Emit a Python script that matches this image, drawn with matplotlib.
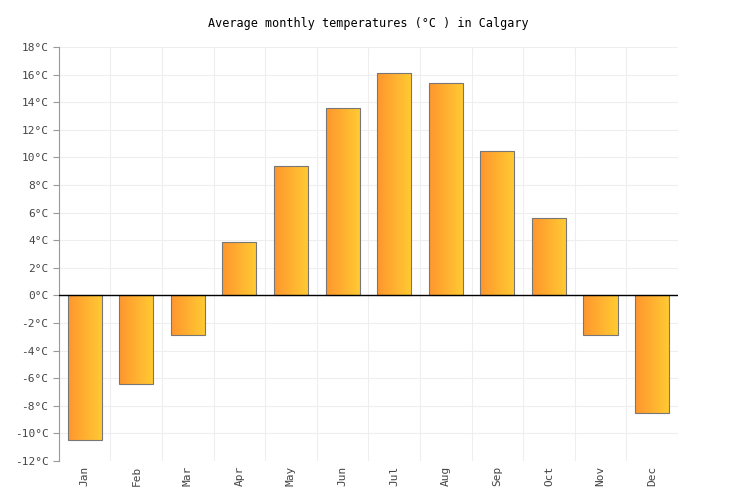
import numpy as np
import matplotlib
matplotlib.use("Agg")
import matplotlib.pyplot as plt
from matplotlib.colors import LinearSegmentedColormap

months = ["Jan", "Feb", "Mar", "Apr", "May", "Jun", "Jul", "Aug", "Sep", "Oct", "Nov", "Dec"]
temps = [-10.5, -6.4, -2.9, 3.9, 9.4, 13.6, 16.1, 15.4, 10.5, 5.6, -2.9, -8.5]
yticks = list(range(-12, 19, 2))

plt.rcParams["font.family"] = "DejaVu Sans Mono"
fig = plt.figure(figsize=(7.36, 5), dpi=100)
ax = fig.add_axes([0.080, 0.078, 0.841, 0.828])

cmap = LinearSegmentedColormap.from_list("og", ["#ff962e", "#ffcb33"])
grad = np.linspace(0, 1, 64).reshape(1, -1)
width = 0.66
x = np.arange(len(months))
bars = ax.bar(x, temps, width=width, facecolor="none", edgecolor="#777777", linewidth=0.8, zorder=3)
for b in bars:
    x0, y0 = b.get_x(), b.get_y()
    w, h = b.get_width(), b.get_height()
    im = ax.imshow(grad, cmap=cmap, aspect="auto", extent=[x0, x0 + w, y0, y0 + h],
                   zorder=2, interpolation="bilinear")
    im.set_clip_path(b)

ax.set_xlim(-0.5, len(months) - 0.5)
ax.set_ylim(-12, 18)
ax.set_yticks(yticks)
ax.set_yticklabels([f"{t}°C" for t in yticks], fontsize=8, color="#444444")
ax.set_xticks(x)
ax.set_xticklabels(months, rotation=90, fontsize=8, color="#444444")
ax.set_xticks(np.arange(-0.5, len(months)), minor=True)
ax.grid(True, which="minor", axis="x", color="#eeeeee", linewidth=0.8, zorder=0)
ax.grid(True, which="major", axis="y", color="#eeeeee", linewidth=0.8, zorder=0)
ax.tick_params(axis="x", which="both", length=0)
ax.tick_params(axis="y", length=4, color="#999999")
ax.axhline(0, color="black", linewidth=1, zorder=4)
for s in ["top", "right", "bottom"]:
    ax.spines[s].set_visible(False)
ax.spines["left"].set_color("#999999")

fig.suptitle("Average monthly temperatures (°C ) in Calgary", y=0.965, fontsize=8.5)
fig.savefig("out.png", dpi=100)
